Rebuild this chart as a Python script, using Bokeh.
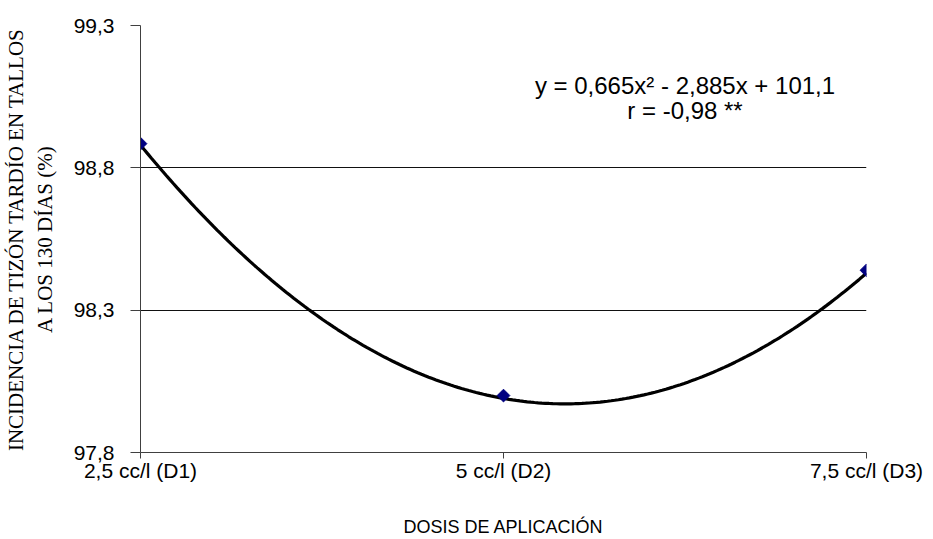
from bokeh.plotting import figure
from bokeh.models import Range1d, FixedTicker, CustomJSTickFormatter, Label
from bokeh.embed import file_html
from bokeh.resources import INLINE
import numpy as np

# ---- data ----
categories = ["2,5 cc/l (D1)", "5 cc/l (D2)", "7,5 cc/l (D3)"]
cat_pos = [1, 2, 3]
incidence = [98.885, 98.00, 98.44]
# trendline coefficients shown on the chart: y = a x^2 + b x + c
trend_coef = [0.665, -2.885, 101.1]
y_ticks = [97.8, 98.3, 98.8, 99.3]
equation_text = "y = 0,665x² - 2,885x + 101,1"
r_text = "r = -0,98 **"
y_title = "INCIDENCIA DE TIZÓN TARDÍO EN TALLOS\nA LOS 130 DÍAS (%)"
x_title = "DOSIS DE APLICACIÓN"

p = figure(width=933, height=539, output_backend="svg", toolbar_location=None,
           x_range=Range1d(1, 3), y_range=Range1d(97.8, 99.3))
p.min_border_left = 140
p.min_border_right = 67
p.min_border_top = 25
p.min_border_bottom = 86
p.outline_line_color = None
p.background_fill_color = "white"
p.border_fill_color = "white"

# grid
p.xgrid.grid_line_color = None
p.ygrid.grid_line_color = "#111111"
p.ygrid.grid_line_width = 1
p.ygrid.ticker = FixedTicker(ticks=y_ticks)

# y axis
p.yaxis.ticker = FixedTicker(ticks=y_ticks)
p.yaxis.formatter = CustomJSTickFormatter(code="return tick.toFixed(1).replace('.', ',');")
p.yaxis.major_tick_out = 10
p.yaxis.major_tick_in = 0
p.yaxis.minor_tick_line_color = None
p.yaxis.axis_line_color = "#404040"
p.yaxis.major_tick_line_color = "#404040"
p.yaxis.major_label_text_font = "Liberation Sans"
p.yaxis.major_label_text_font_size = "21px"
p.yaxis.major_label_text_color = "black"
p.yaxis.major_label_standoff = 16
p.yaxis.axis_label = y_title
p.yaxis.axis_label_text_font = "Liberation Serif"
p.yaxis.axis_label_text_font_size = "21px"
p.yaxis.axis_label_text_font_style = "normal"
p.yaxis.axis_label_text_color = "black"
p.yaxis.axis_label_standoff = 14

# x axis
p.xaxis.ticker = FixedTicker(ticks=cat_pos)
p.xaxis.major_label_overrides = {k: v for k, v in zip(cat_pos, categories)}
p.xaxis.major_tick_out = 6
p.xaxis.major_tick_in = 0
p.xaxis.minor_tick_line_color = None
p.xaxis.axis_line_color = "#404040"
p.xaxis.major_tick_line_color = "#404040"
p.xaxis.major_label_text_font = "Liberation Sans"
p.xaxis.major_label_text_font_size = "21px"
p.xaxis.major_label_text_color = "black"
p.xaxis.major_label_standoff = 0
p.xaxis.axis_label = x_title
p.xaxis.axis_label_text_font = "Liberation Sans"
p.xaxis.axis_label_text_font_size = "18px"
p.xaxis.axis_label_text_font_style = "normal"
p.xaxis.axis_label_text_color = "black"
p.xaxis.axis_label_standoff = 32

# trendline from the displayed coefficients
xs = np.linspace(cat_pos[0], cat_pos[-1], 200)
a, b, c = trend_coef
ys = a * xs ** 2 + b * xs + c
p.line(xs, ys, line_color="black", line_width=3.2)

# data points (diamonds drawn as rotated squares)
p.scatter(cat_pos, incidence, marker="square", size=9, angle=np.pi / 4,
          fill_color="#000080", line_color="#000080")

# equation labels
p.add_layout(Label(x=2.5, y=99.09, text=equation_text, text_align="center",
                   text_baseline="middle", text_font="Liberation Sans",
                   text_font_size="24px", text_color="black"))
p.add_layout(Label(x=2.5, y=99.0, text=r_text, text_align="center",
                   text_baseline="middle", text_font="Liberation Sans",
                   text_font_size="24px", text_color="black"))

open("out.html", "w").write(file_html(p, INLINE))
